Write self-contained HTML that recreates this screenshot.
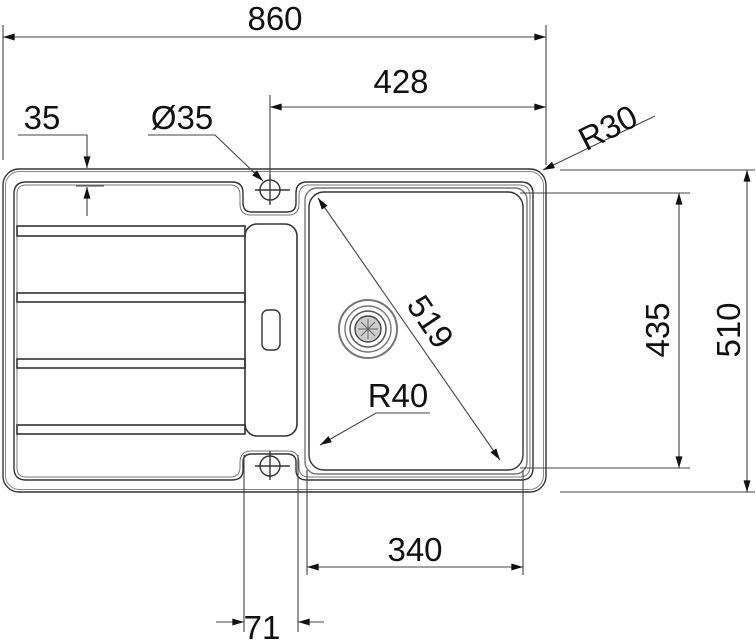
<!DOCTYPE html>
<html><head><style>html,body{margin:0;padding:0;background:#fff}svg{display:block}text{font-family:"Liberation Sans",sans-serif;fill:#111}</style></head><body>
<svg width="756" height="640" viewBox="0 0 756 640" xmlns="http://www.w3.org/2000/svg">
<defs>
<marker id="a" viewBox="0 0 10 6" refX="10" refY="3" markerWidth="18" markerHeight="7" markerUnits="userSpaceOnUse" orient="auto-start-reverse"><path d="M0,0L10,3L0,6z" fill="#111"/></marker>
</defs>
<g fill="none" stroke="#333" stroke-width="1.4">
<rect x="3" y="169" width="543" height="323" rx="16"/>
<rect x="5.5" y="171.5" width="538" height="318" rx="14" stroke="#888" stroke-width="1"/>
<path d="M26,182 H232 Q243,182 243,193 V203 Q243,212 252,212 H287 Q296,212 296,203 V193 Q296,182 307,182 H521 Q533,182 533,194 V468 Q533,480 521,480 H307 Q296,480 296,470 V462 Q296,454 287,454 H252 Q243,454 243,462 V470 Q243,480 232,480 H26 Q14,480 14,468 V194 Q14,182 26,182Z"/>
<path d="M26,185 H230 Q240,185 240,195 V204 Q240,215 251,215 H288 Q299,215 299,204 V196 Q299,185 309,185 H519 Q530,185 530,196 V466 Q530,477 519,477 H309 Q299,477 299,467 V463 Q299,451 288,451 H251 Q240,451 240,463 V467 Q240,477 230,477 H26 Q17,477 17,468 V194 Q17,185 26,185Z" stroke="#777" stroke-width="1"/>
<rect x="17" y="226" width="228" height="10" stroke-width="1.6"/>
<rect x="17" y="293" width="228" height="9" stroke-width="1.6"/>
<rect x="17" y="359" width="228" height="9" stroke-width="1.6"/>
<rect x="17" y="425" width="228" height="9" stroke-width="1.6"/>
<rect x="245" y="224" width="52" height="212" rx="12" stroke-width="1.6"/>
<rect x="262" y="310" width="18" height="40" rx="6"/>
<rect x="305" y="188" width="222" height="286" rx="12" stroke="#777"/>
<rect x="309" y="192" width="214" height="278" rx="15"/>
<circle cx="368" cy="329" r="29" stroke="#777" stroke-width="2"/>
<circle cx="368" cy="329" r="23" stroke="#777"/>
<circle cx="368" cy="329" r="18" stroke="#555" stroke-width="1.5"/>
<circle cx="368" cy="329" r="13" fill="#ccc" stroke="#444"/>
<path d="M358,329H378M368,319V339M361,322L375,336M375,322L361,336" stroke="#666" stroke-width="1"/>
<circle cx="270" cy="190" r="10"/>
<circle cx="270" cy="466" r="10"/>
<path d="M255,190H290M270,175V205M255,466H290M270,451V480"/>
</g>
<g fill="none" stroke="#444" stroke-width="1.1">
<path d="M3,25V160M546,25V165M270,95V200M560,170H755M520,193H690M560,492H755M520,468H690M244,455V632M298,455V632M307,470V575M523,470V575M76,186H104"/>
<path d="M3,37H546" marker-start="url(#a)" marker-end="url(#a)"/>
<path d="M270,107H546" marker-start="url(#a)" marker-end="url(#a)"/>
<path d="M747,170V492" marker-start="url(#a)" marker-end="url(#a)"/>
<path d="M679,193V468" marker-start="url(#a)" marker-end="url(#a)"/>
<path d="M307,567H523" marker-start="url(#a)" marker-end="url(#a)"/>
<path d="M318,198L500,460" marker-start="url(#a)" marker-end="url(#a)"/>
<path d="M18,135H87V168" marker-end="url(#a)"/>
<path d="M87,216V187" marker-end="url(#a)"/>
<path d="M148,135H215L263,181" marker-end="url(#a)"/>
<path d="M655,116L543,170" marker-end="url(#a)"/>
<path d="M430,413H376L320,445" marker-end="url(#a)"/>
<path d="M216,622H244" marker-end="url(#a)"/>
<path d="M324,622H298" marker-end="url(#a)"/>
</g>
<g font-size="33">
<text x="275" y="30" text-anchor="middle">860</text>
<text x="401" y="93" text-anchor="middle">428</text>
<text x="42" y="129" text-anchor="middle">35</text>
<text x="182" y="129" text-anchor="middle">Ø35</text>
<text x="608" y="139" text-anchor="middle" transform="rotate(-27 608 128)">R30</text>
<text x="398" y="407" text-anchor="middle">R40</text>
<text x="415" y="561" text-anchor="middle">340</text>
<text x="262" y="639" text-anchor="middle">71</text>
<text x="0" y="0" text-anchor="middle" transform="translate(669 330) rotate(-90)">435</text>
<text x="0" y="0" text-anchor="middle" transform="translate(740 330) rotate(-90)">510</text>
<text x="0" y="0" text-anchor="middle" transform="translate(421 328) rotate(56)">519</text>
</g>
</svg>
</body></html>
